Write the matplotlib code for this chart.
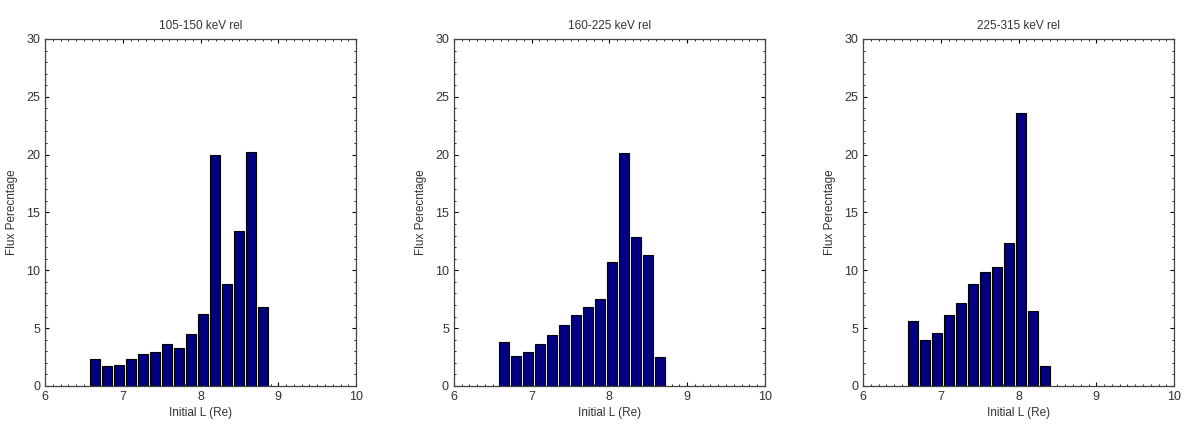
import numpy as np
import matplotlib
matplotlib.use('Agg')
import matplotlib.pyplot as plt
from matplotlib.ticker import MultipleLocator

# valores
titles = ['105-150 keV rel', '160-225 keV rel', '225-315 keV rel']
flux_105 = [2.3, 1.7, 1.85, 2.3, 2.75, 2.95, 3.65, 3.3, 4.5, 6.2, 20.0, 8.8, 13.4, 20.25, 6.8]
flux_160 = [3.8, 2.6, 2.95, 3.65, 4.45, 5.25, 6.1, 6.8, 7.55, 10.7, 20.1, 12.9, 11.3, 2.5]
flux_225 = [5.65, 4.0, 4.55, 6.1, 7.15, 8.8, 9.85, 10.3, 12.35, 23.6, 6.5, 1.75]
L_start = 6.57
L_step = 0.154

plt.rcParams['font.family'] = ['Liberation Sans', 'DejaVu Sans']
txt = '#333333'

fig = plt.figure(figsize=(11.85, 4.36), dpi=100)
lefts = [0.038, 0.383, 0.7283]

for left, title, flux in zip(lefts, titles, [flux_105, flux_160, flux_225]):
    ax = fig.add_axes([left, 0.1147, 0.2625, 0.796])
    centers = L_start + L_step * (np.arange(len(flux)) + 0.5)
    ax.bar(centers, flux, width=L_step * 0.86, color='#000080',
           edgecolor='black', linewidth=0.8)
    ax.set_xlim(6, 10)
    ax.set_ylim(0, 30)
    ax.set_xticks([6, 7, 8, 9, 10])
    ax.set_yticks([0, 5, 10, 15, 20, 25, 30])
    ax.xaxis.set_minor_locator(MultipleLocator(0.1))
    ax.yaxis.set_minor_locator(MultipleLocator(1))
    ax.tick_params(which='both', direction='in', top=True, right=True,
                   labelsize=9, labelcolor=txt, color='black')
    ax.tick_params(which='major', length=3, width=0.8)
    ax.tick_params(which='minor', length=1.5, width=0.6)
    for s in ax.spines.values():
        s.set_color('#444444')
        s.set_linewidth(0.9)
    ax.set_title(title, fontsize=8.5, color=txt, pad=7)
    ax.set_xlabel('Initial L (Re)', fontsize=8.5, color=txt, labelpad=3)
    ax.set_ylabel('Flux Perecntage', fontsize=8.5, color=txt, labelpad=6)

fig.savefig('out.png', dpi=100)
